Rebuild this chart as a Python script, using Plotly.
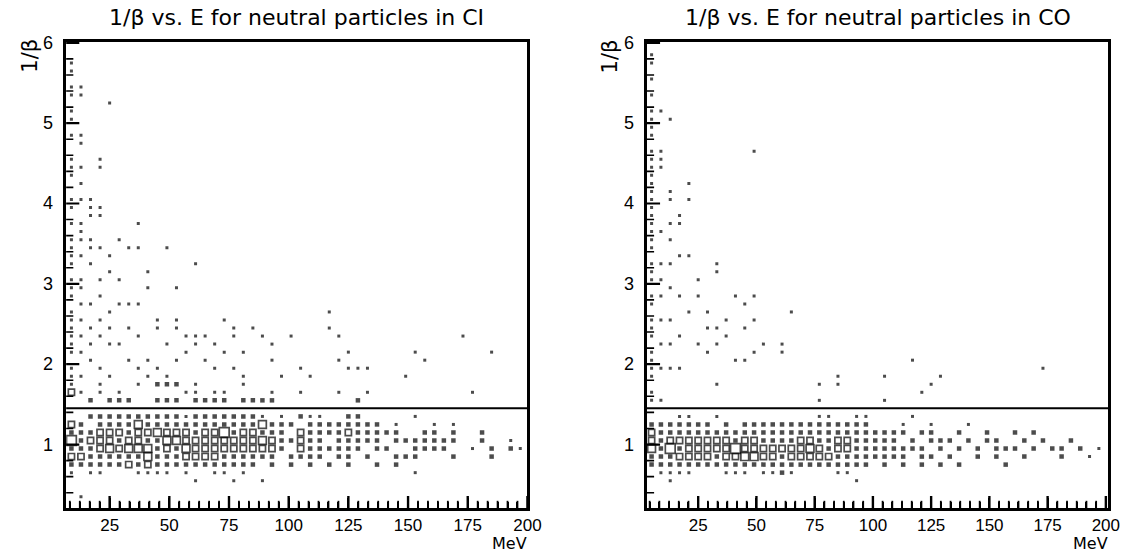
import plotly.graph_objects as go

# ---------------- data ----------------
# x bin centres (MeV), 4 MeV bins
x_centers = [5 + 4 * i for i in range(49)]
cut_value = 1.45

# band rows: box-size level per x bin (0 = empty, 1..5 = growing box)
ci_band_y = [1.75, 1.65, 1.55, 1.35, 1.25, 1.15, 1.05, 0.95, 0.85, 0.75, 0.65, 0.55, 0.35]
ci_band = [
    "0100100010 2220100001 0000000000 0000000000 000000000",
    "0310101000 0001101100 0010010001 0010000000 000100000",
    "0002022200 2220222202 2220000000 0200000000 000000000",
    "0002222222 2221222222 2101021100 2200000100 000000000",
    "0320222242 2222222222 2422202222 2222010001 010000000",
    "0222333233 4333233523 3222032222 3222220022 020020000",
    "0523332332 2443333333 3432232202 2222022222 220020010",
    "0222343444 2324333333 3332032222 2202200222 200102021",
    "0332222224 2223333222 2220222202 2020022200 020002000",
    "0222222323 2222222222 2020202020 2002020000 000000000",
    "0101100011 1101001101 0000000000 0000000100 000000000",
    "0000000000 0000100010 0100000000 0000000000 000000000",
    "0010000000 0000000000 0000000000 0000000000 000000000",
]
co_band_y = [1.75, 1.55, 1.35, 1.25, 1.15, 1.05, 0.95, 0.85, 0.75, 0.65, 0.55]
co_band = [
    "0000000100 0000000010 1000000000 0000000000 000000000",
    "1100000000 0000000010 0000010000 0000000000 000000000",
    "0001100100 0000000011 0011000010 0000000000 000000000",
    "2222222020 2222222222 2222000100 1000100000 000000000",
    "3222222222 2222222222 2222222202 2002002002 020000000",
    "3233333332 3322223322 3322222020 2220202200 202002000",
    "4252333335 3333333432 3322222222 0202020222 020220201",
    "2223333233 4433233333 2222222202 2020020200 200020010",
    "2222222222 2222222222 2222020202 0202000020 000000000",
    "0111100011 1011210000 1100000000 0000000000 000000000",
    "0010000000 0000000000 0010000000 0000000000 000000000",
]

# sparse single entries above the cut (x bin -> list of 1/beta bins)
ci_sparse = {
    9: [5.75, 5.65, 5.45, 5.35, 5.15, 5.05, 4.85, 4.55, 4.45, 4.35, 4.05, 3.95, 3.75, 3.55,
        3.45, 3.35, 3.25, 3.05, 2.95, 2.85, 2.65, 2.55, 2.45, 2.35, 2.25, 2.15, 1.95, 1.85],
    13: [5.45, 5.35, 4.85, 4.75, 4.45, 4.25, 4.05, 3.75, 3.65, 3.55, 3.35, 3.05, 2.95, 2.75,
         2.55, 2.35, 2.15, 1.85],
    17: [4.05, 3.95, 3.85, 3.55, 3.45, 3.25, 2.75, 2.45, 2.25, 2.05],
    21: [4.55, 4.45, 3.95, 3.85, 3.45, 3.05, 2.85, 2.55, 2.35, 1.95],
    25: [5.25, 3.35, 3.15, 2.65, 2.45, 2.25, 1.85],
    29: [3.55, 3.05, 2.75, 2.25],
    33: [3.45, 2.75, 2.45, 2.05],
    37: [3.75, 3.45, 2.75, 2.35, 1.95],
    41: [3.15, 2.95, 2.05, 1.85],
    45: [2.55, 2.45, 1.95],
    49: [3.45, 2.25, 1.85],
    53: [2.95, 2.55, 2.45, 2.05],
    57: [2.35, 2.15],
    61: [3.25, 2.35, 2.25],
    65: [2.35, 2.05],
    69: [2.25, 1.95],
    73: [2.55, 2.15],
    77: [2.45, 2.35, 1.95],
    81: [2.15, 1.85],
    85: [2.45],
    89: [2.35],
    93: [2.25, 2.05],
    97: [1.85],
    101: [2.35],
    105: [1.95],
    109: [1.85],
    117: [2.65, 2.45],
    121: [2.35, 2.05],
    125: [2.15, 1.95],
    129: [1.95],
    133: [1.95],
    149: [1.85],
    153: [2.15],
    157: [2.05],
    173: [2.35],
    185: [2.15],
}
co_sparse = {
    5: [5.85, 5.75, 5.55, 5.35, 5.15, 5.05, 4.95, 4.85, 4.65, 4.55, 4.45, 4.35, 4.25, 4.15,
        4.05, 3.95, 3.85, 3.75, 3.65, 3.55, 3.45, 3.25, 3.15, 3.05, 2.85, 2.75, 2.55, 2.45,
        2.35, 2.15, 2.05, 1.95, 1.85, 1.65],
    9: [5.15, 4.65, 4.55, 4.45, 3.65, 3.25, 3.05, 2.85, 2.55, 2.25, 1.95],
    13: [5.05, 4.15, 4.05, 3.75, 3.55, 3.25, 2.95, 2.55, 2.25, 1.95],
    17: [3.85, 3.75, 3.35, 2.85, 2.35, 1.95],
    21: [4.25, 4.05, 3.35, 2.65],
    25: [3.05, 2.85, 2.25],
    29: [2.65, 2.45, 2.15],
    33: [3.25, 3.15, 2.45, 2.25],
    37: [2.55, 2.35],
    41: [2.85, 2.05],
    45: [2.75, 2.45, 2.05],
    49: [4.65, 2.85, 2.55, 2.15],
    53: [2.25],
    61: [2.25, 2.15],
    65: [2.65],
    85: [1.85],
    105: [1.85],
    117: [2.05],
    121: [1.65],
    125: [1.75],
    129: [1.85],
    173: [1.95],
}

titles = ["1/\u03b2 vs. E for neutral particles in CI",
          "1/\u03b2 vs. E for neutral particles in CO"]
x_major = [25, 50, 75, 100, 125, 150, 175, 200]
y_major = [1, 2, 3, 4, 5, 6]
x_minor_step = 25 / 6
y_minor_step = 0.2

# ---------------- styling ----------------
level_size = {1: 3.0, 2: 4.5, 3: 6.2, 4: 7.8, 5: 9.8}
W, H = 1137, 555
FONT = "Liberation Sans"
TFONT = "DejaVu Sans"
X_DOMS = [[67 / W, 534 / W], [655 / W, 1122 / W]]
X_RANGES = [[6.8, 200], [3, 201]]
Y_RANGE = [0.21, 6.01]
PLOT_W = 467
PLOT_H = 466


def collect(band_rows, band_y, sparse):
    pts = []
    for y, row in zip(band_y, band_rows):
        s = row.replace(" ", "")
        for i, ch in enumerate(s):
            lv = int(ch)
            if lv > 0:
                pts.append((x_centers[i], y, lv))
    for x, ys in sparse.items():
        for y in ys:
            pts.append((x, y, 1))
    return pts


fig = go.Figure()
axes_pairs = [("x", "y"), ("x2", "y2")]
panels = [
    (ci_band, ci_band_y, ci_sparse),
    (co_band, co_band_y, co_sparse),
]
for k, (band, by, sp) in enumerate(panels):
    xa, ya = axes_pairs[k]
    pts = collect(band, by, sp)
    filled = [p for p in pts if p[2] <= 2]
    opened = [p for p in pts if p[2] >= 3]
    fig.add_trace(go.Scatter(
        x=[p[0] for p in filled], y=[p[1] for p in filled], mode="markers",
        marker=dict(symbol="square", color="black",
                    size=[level_size[p[2]] for p in filled], line=dict(width=0)),
        xaxis=xa, yaxis=ya, showlegend=False, hoverinfo="skip"))
    fig.add_trace(go.Scatter(
        x=[p[0] for p in opened], y=[p[1] for p in opened], mode="markers",
        marker=dict(symbol="square-open", color="black",
                    size=[level_size[p[2]] for p in opened], line=dict(width=1.7, color="black")),
        xaxis=xa, yaxis=ya, showlegend=False, hoverinfo="skip"))

    # inside tick marks (axis decoration) drawn as line-shaped markers
    xr = X_RANGES[k]
    px_per_x = PLOT_W / (xr[1] - xr[0])
    px_per_y = PLOT_H / (Y_RANGE[1] - Y_RANGE[0])
    for major in (True, False):
        ln = 10 if major else 6
        tx, ty = [], []
        n = 1
        while n * x_minor_step <= xr[1] + 1e-9:
            v = n * x_minor_step
            is_major = abs(v / 25 - round(v / 25)) < 1e-6
            if v > xr[0] + 0.5 and is_major == major:
                tx.append(v)
                ty.append(Y_RANGE[0] + (ln / 2) / px_per_y)
            n += 1
        fig.add_trace(go.Scatter(
            x=tx, y=ty, mode="markers",
            marker=dict(symbol="line-ns", size=ln, color="black",
                        line=dict(color="black", width=2.4 if major else 1.8)),
            xaxis=xa, yaxis=ya, showlegend=False, hoverinfo="skip", cliponaxis=False))
        ln = 11 if major else 6
        tx, ty = [], []
        n = 1
        while n * y_minor_step <= Y_RANGE[1] + 1e-9:
            v = n * y_minor_step
            is_major = abs(v - round(v)) < 1e-6
            if v > Y_RANGE[0] and is_major == major:
                tx.append(xr[0] + (ln / 2) / px_per_x)
                ty.append(v)
            n += 1
        fig.add_trace(go.Scatter(
            x=tx, y=ty, mode="markers",
            marker=dict(symbol="line-ew", size=ln, color="black",
                        line=dict(color="black", width=2.2 if major else 1.6)),
            xaxis=xa, yaxis=ya, showlegend=False, hoverinfo="skip"))

ydom = [(555 - 508) / H, (555 - 42) / H]
common_x = dict(showline=True, linewidth=3, linecolor="black", mirror=True,
                ticks="inside", ticklen=10, tickwidth=2, tickcolor="black",
                tickmode="array", tickvals=x_major,
                minor=dict(ticks="inside", ticklen=6, tickwidth=1.5, tickcolor="black",
                           dtick=25 / 6, tick0=0, showgrid=False),
                showgrid=False, zeroline=False,
                tickfont=dict(family=FONT, size=17, color="black"))
common_y = dict(showline=True, linewidth=3, linecolor="black", mirror=True,
                ticks="", ticklen=0, tickmode="array", tickvals=y_major,
                showticklabels=False, showgrid=False, zeroline=False, domain=ydom)

fig.update_layout(
    width=W, height=H, margin=dict(l=0, r=0, t=0, b=0),
    paper_bgcolor="white", plot_bgcolor="white",
    xaxis=dict(domain=X_DOMS[0], range=X_RANGES[0], anchor="y", **common_x),
    yaxis=dict(range=Y_RANGE, anchor="x", **common_y),
    xaxis2=dict(domain=X_DOMS[1], range=X_RANGES[1], anchor="y2", **common_x),
    yaxis2=dict(range=Y_RANGE, anchor="x2", **common_y),
)

for k, (xa, ya) in enumerate(axes_pairs):
    fig.add_shape(type="line", xref=f"{xa} domain", yref=ya, x0=0, x1=1,
                  y0=cut_value, y1=cut_value, line=dict(color="black", width=2))
    for v in y_major:
        fig.add_annotation(text=str(v), xref=f"{xa} domain", yref=ya, x=0, y=v,
                           xanchor="right", yanchor="middle", xshift=-11, showarrow=False,
                           font=dict(family=FONT, size=18, color="black"))
    dom = X_DOMS[k]
    fig.add_annotation(text=titles[k], xref="paper", yref="paper",
                       x=(dom[0] + dom[1]) / 2, y=1 - 17 / H, showarrow=False,
                       xanchor="center", yanchor="middle",
                       font=dict(family=TFONT, size=22, color="black"))
    fig.add_annotation(text="1/\u03b2", xref="paper", yref="paper",
                       x=dom[0] - 37 / W, y=1 - 56 / H, textangle=-90, showarrow=False,
                       xanchor="center", yanchor="middle",
                       font=dict(family=TFONT, size=21, color="black"))
    fig.add_annotation(text="MeV", xref="paper", yref="paper",
                       x=dom[1] + 2 / W, y=0, showarrow=False,
                       xanchor="right", yanchor="bottom",
                       font=dict(family=TFONT, size=16, color="black"))

fig.write_html("out.html")
